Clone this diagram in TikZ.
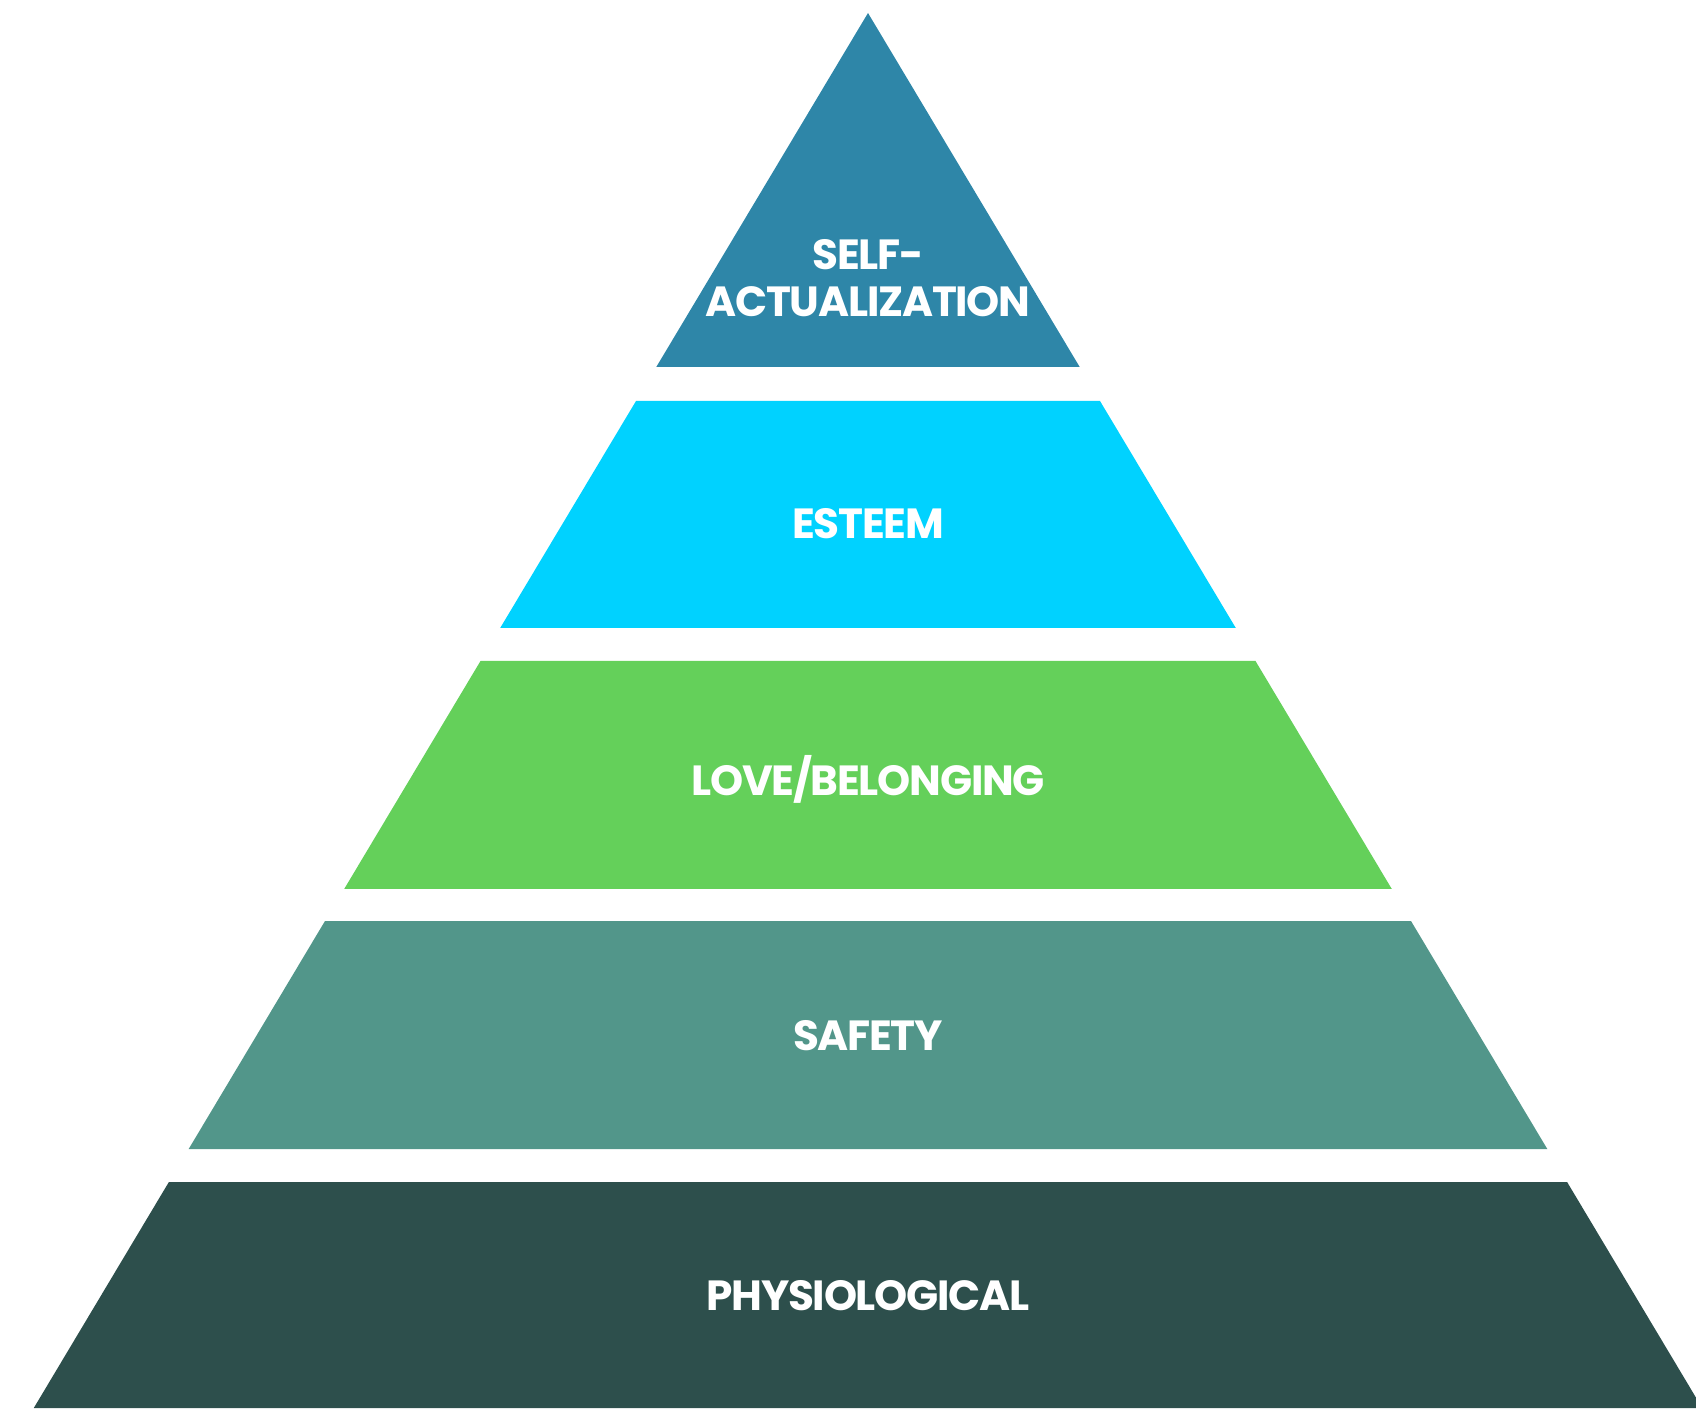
\documentclass[tikz,border=0pt]{standalone}
\usepackage{fontspec}
\setmainfont[LetterSpace=-3]{Poppins}
\usetikzlibrary{shapes}

\definecolor{topblue}{RGB}{46,134,168}
\definecolor{cyanband}{RGB}{0,210,255}
\definecolor{greenband}{RGB}{100,208,90}
\definecolor{tealband}{RGB}{82,150,138}
\definecolor{darkband}{RGB}{45,79,76}

\begin{document}
\begin{tikzpicture}
\useasboundingbox (0,0) rectangle (16.96,-14.09);
\path [fill=topblue] (8.68,-0.13) -- (10.797,-3.67) -- (6.563,-3.67) -- cycle;
\path [fill=cyanband] (6.36,-4.01) -- (11.00,-4.01) -- (12.358,-6.28) -- (5.002,-6.28) -- cycle;
\path [fill=greenband] (4.805,-6.61) -- (12.555,-6.61) -- (13.918,-8.89) -- (3.442,-8.89) -- cycle;
\path [fill=tealband] (3.25,-9.21) -- (14.11,-9.21) -- (15.473,-11.49) -- (1.887,-11.49) -- cycle;
\path [fill=darkband] (1.689,-11.82) -- (15.671,-11.82) -- (17.022,-14.08) -- (0.338,-14.08) -- cycle;

\node[align=center,text=white,font=\fontsize{12}{13.4}\selectfont\bfseries] (0) at (8.68,-2.78) {SELF-\\ACTUALIZATION};
\node[align=center,text=white,font=\fontsize{12}{13.4}\selectfont\bfseries] (1) at (8.68,-5.235) {ESTEEM};
\node[align=center,text=white,font=\fontsize{12}{13.4}\selectfont\bfseries] (2) at (8.68,-7.79) {LOVE/BELONGING};
\node[align=center,text=white,font=\fontsize{12}{13.4}\selectfont\bfseries] (3) at (8.68,-10.36) {SAFETY};
\node[align=center,text=white,font=\fontsize{12}{13.4}\selectfont\bfseries] (4) at (8.68,-12.96) {PHYSIOLOGICAL};
\end{tikzpicture}
\end{document}
